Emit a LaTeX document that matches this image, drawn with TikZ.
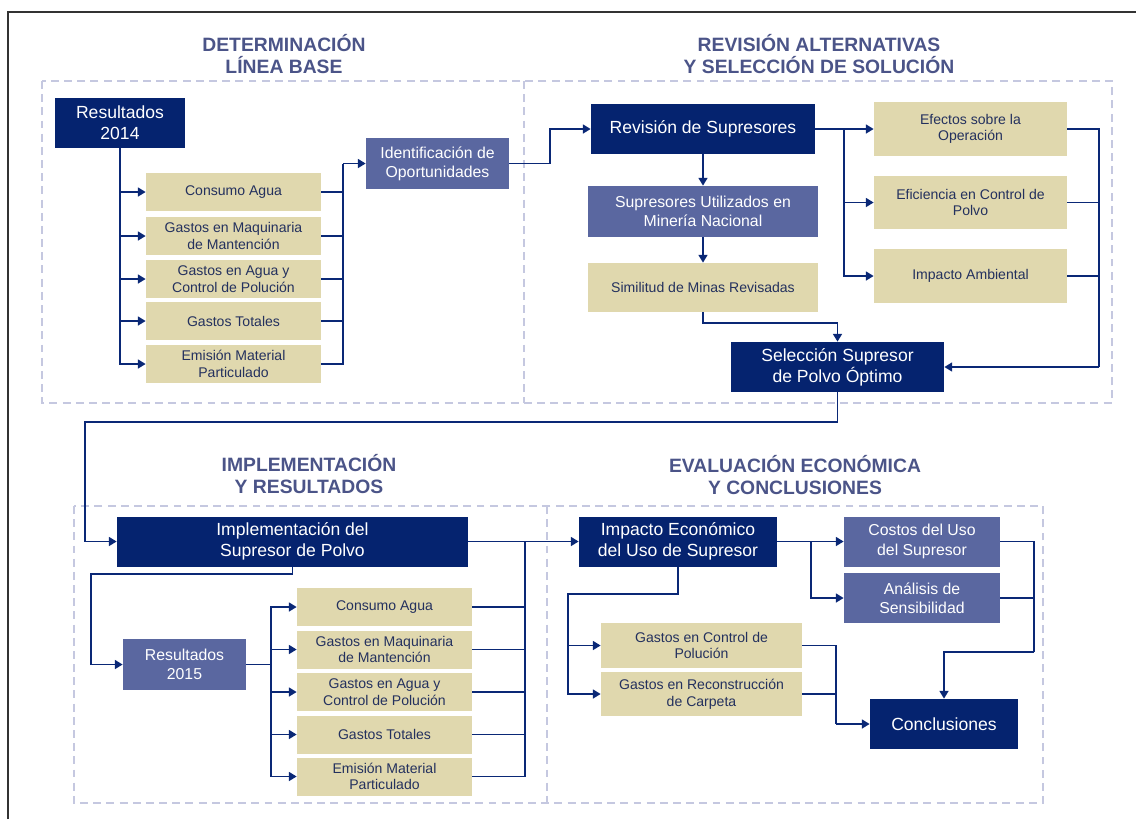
\documentclass[tikz,border=0pt]{standalone}
\usepackage{fontspec}
\setmainfont{Liberation Sans}
\usepackage{tikz}
\usetikzlibrary{arrows.meta}
\definecolor{navy}{HTML}{05236F}
\definecolor{slate}{HTML}{5A67A0}
\definecolor{tan}{HTML}{E0D8AE}
\definecolor{tantext}{HTML}{24315E}
\definecolor{linkblue}{HTML}{0A2876}
\definecolor{titleblue}{HTML}{4B5488}
\definecolor{zonegray}{HTML}{C5C8E0}
\definecolor{framegray}{HTML}{333333}

\begin{document}
\begin{tikzpicture}[x=0.02cm, y=-0.02cm,
  darkbox/.style={fill=navy, text=white, align=center, inner sep=0pt,
    minimum height=1cm, font=\fontsize{10}{12}\selectfont},
  midbox/.style={fill=slate, text=white, align=center, inner sep=0pt,
    minimum height=1cm, font=\fontsize{9}{11}\selectfont},
  tanbox/.style={fill=tan, text=tantext, align=center, inner sep=0pt,
    minimum width=3.5cm, minimum height=0.76cm, font=\fontsize{8}{9.5}\selectfont},
  link/.style={draw=linkblue, line width=1.1pt},
  arr/.style={link, -{Triangle[length=4.4pt,width=5pt]}},
  zone/.style={draw=zonegray, line width=1.4pt, dash pattern=on 4.5pt off 3pt},
  title/.style={text=titleblue, font=\bfseries\fontsize{11}{13}\selectfont, align=center}]

\useasboundingbox (0,0) rectangle (1136,819);

% page frame, only top and left edges are visible
\draw[framegray, line width=0.8pt] (8,819) -- (8,12) -- (1136,12);

%% dashed zones and their titles
\draw[zone] (42,81) rectangle (1112,403);
\draw[zone] (524,81) -- (524,403);
\draw[zone] (74,506) rectangle (1043,803);
\draw[zone] (547,506) -- (547,803);

\path
(284,54) node[title] (tlinea) {DETERMINACIÓN\\LÍNEA BASE}
(819,54) node[title] (trevis) {REVISIÓN ALTERNATIVAS\\Y SELECCIÓN DE SOLUCIÓN}
(309,474) node[title] (timpl) {IMPLEMENTACIÓN\\Y RESULTADOS}
(795,475) node[title] (teval) {EVALUACIÓN ECONÓMICA\\Y CONCLUSIONES};

%% linea base
\path
(120,123) node[darkbox, minimum width=2.6cm] (res14) {Resultados\\2014}
(233.5,192) node[tanbox] (cons14) {Consumo Agua}
(233.5,236) node[tanbox] (maq14) {Gastos en Maquinaria\\de Mantención}
(233.5,279) node[tanbox] (agua14) {Gastos en Agua y\\Control de Polución}
(233.5,321) node[tanbox] (tot14) {Gastos Totales}
(233.5,364) node[tanbox] (emis14) {Emisión Material\\Particulado}
(437.5,163.5) node[midbox, minimum width=2.86cm, minimum height=1.02cm] (ident) {Identificación de\\Oportunidades};

\coordinate (bus14) at (343,163.5);
\foreach \n in {cons14, maq14, agua14, tot14, emis14}
  {
    \draw[arr] (res14.south) |- (\n.west);
    \draw[link] (\n.east) -| (bus14);
  }
\draw[arr] (bus14) -- (ident.west);

%% revision y seleccion
\path
(703,129) node[darkbox, minimum width=4.48cm] (revis) {Revisión de Supresores}
(703,211.5) node[midbox, minimum width=4.6cm, minimum height=1.02cm] (supuso) {Supresores Utilizados en\\Minería Nacional}
(703,287.5) node[tanbox, minimum width=4.6cm, minimum height=0.98cm] (simil) {Similitud de Minas Revisadas}
(970.5,129) node[tanbox, minimum width=3.86cm, minimum height=1.08cm] (efect) {Efectos sobre la\\Operación}
(970.5,202.5) node[tanbox, minimum width=3.86cm, minimum height=1.06cm] (efic) {Eficiencia en Control de\\Polvo}
(970.5,276) node[tanbox, minimum width=3.86cm, minimum height=1.08cm] (impamb) {Impacto Ambiental}
(837.5,367) node[darkbox, minimum width=4.26cm] (selec) {Selección Supresor\\de Polvo Óptimo};

\draw[arr] (ident.east) -- ++(41,0) |- (revis.west);
\draw[arr] (revis.south) -- (supuso.north);
\draw[arr] (supuso.south) -- (simil.north);
\draw[arr] (simil.south) -- ++(0,11) -| (selec.north);

\coordinate (brrev) at (844,129);
\draw[arr] (revis.east) -- (efect.west);
\draw[arr] (brrev) |- (efic.west);
\draw[arr] (brrev) |- (impamb.west);

\coordinate (busrev) at (1099,367);
\foreach \n in {efect, efic, impamb}
    \draw[link] (\n.east) -| (busrev);
\draw[arr] (busrev) -- (selec.east);

%% implementacion y resultados
\path
(292.5,541.5) node[darkbox, minimum width=7.02cm] (impl) {Implementación del\\Supresor de Polvo}
(184.5,664.5) node[midbox, minimum width=2.46cm, minimum height=1.02cm] (res15) {Resultados\\2015}
(384.5,607) node[tanbox] (cons15) {Consumo Agua}
(384.5,649.5) node[tanbox] (maq15) {Gastos en Maquinaria\\de Mantención}
(384.5,692) node[tanbox] (agua15) {Gastos en Agua y\\Control de Polución}
(384.5,734.5) node[tanbox] (tot15) {Gastos Totales}
(384.5,776.5) node[tanbox] (emis15) {Emisión Material\\Particulado};

\coordinate (turn1) at (85,422);
\draw[arr] (selec.south) |- (turn1) |- (impl.west);
\coordinate (turn2) at (91,574);
\draw[arr] (impl.south) |- (turn2) |- (res15.west);

\coordinate (br15) at (271,664.5);
\coordinate (bus15) at (525,541.5);
\draw[link] (res15.east) -- (br15);
\foreach \n in {cons15, maq15, agua15, tot15, emis15}
  {
    \draw[arr] (br15) |- (\n.west);
    \draw[link] (\n.east) -| (bus15);
  }

%% evaluacion economica
\path
(678,541.5) node[darkbox, minimum width=3.96cm] (impec) {Impacto Económico\\del Uso de Supresor}
(922,541.5) node[midbox, minimum width=3.12cm] (costos) {Costos del Uso\\del Supresor}
(922,598) node[midbox, minimum width=3.12cm] (analis) {Análisis de\\Sensibilidad}
(701.5,645.5) node[tanbox, minimum width=4.02cm, minimum height=0.9cm] (gcontr) {Gastos en Control de\\Polución}
(701.5,694) node[tanbox, minimum width=4.02cm, minimum height=0.88cm] (grecon) {Gastos en Reconstrucción\\de Carpeta}
(944,724) node[darkbox, minimum width=2.96cm] (concl) {Conclusiones};

\draw[arr] (impl.east) -- (impec.west);

\coordinate (brimp) at (811,541.5);
\draw[arr] (impec.east) -- (costos.west);
\draw[arr] (brimp) |- (analis.west);

\coordinate (turn3) at (568,594);
\draw[arr] (impec.south) |- (turn3) |- (gcontr.west);
\draw[arr] (turn3) |- (grecon.west);

\coordinate (bus3) at (836,724);
\draw[link] (gcontr.east) -| (bus3);
\draw[link] (grecon.east) -| (bus3);
\draw[arr] (bus3) -- (concl.west);

\coordinate (bus4) at (1034,652);
\draw[link] (costos.east) -| (bus4);
\draw[link] (analis.east) -| (bus4);
\draw[arr] (bus4) -| (concl.north);

\end{tikzpicture}
\end{document}
